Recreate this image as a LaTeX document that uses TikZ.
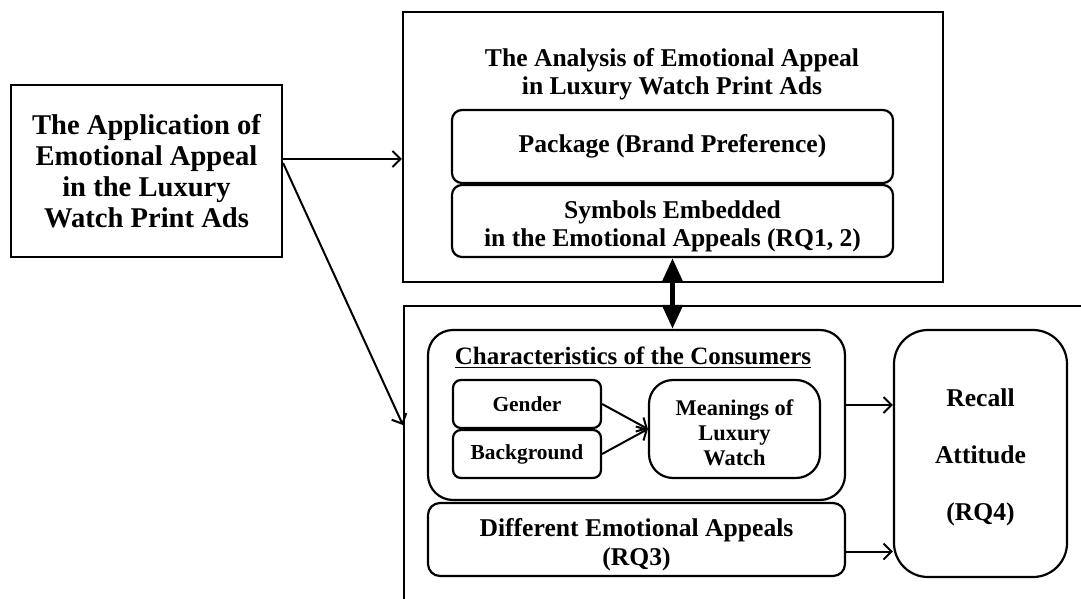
\documentclass[tikz,border=0pt]{standalone}
\usepackage{fontspec}
\setmainfont{Liberation Serif}
\usetikzlibrary{arrows.meta, positioning}

\begin{document}
\begin{tikzpicture}[x=0.5pt, y=-0.5pt,
  box/.style={draw, line width=1.1pt, inner sep=0pt, align=center,
    font=\bfseries\fontsize{12.8}{14}\selectfont},
  rbox/.style={box, rounded corners=#1},
  txt/.style={inner sep=0pt, align=center},
  arr/.style={line width=1pt, -{Straight Barb[length=4pt,width=8pt]}},
  big/.style={line width=2.6pt,
    {Triangle[length=12pt,width=10pt]}-{Triangle[length=12pt,width=10pt]}}]
  \useasboundingbox (0,0) rectangle (1081,599);
  \clip (0,0) rectangle (1081,599);

  % left box
  \node[box, minimum width=135.5pt, minimum height=86pt,
    font=\bfseries\fontsize{14.3}{15.5}\selectfont] (app) at (146.5,171)
    {The Application of\\Emotional Appeal\\in the Luxury\\Watch Print Ads};

  % analysis
  \node[box, minimum width=270pt, minimum height=135pt] (ana) at (673,147) {};
  \node[txt, font=\bfseries\fontsize{12.8}{14}\selectfont] (anatitle)
    at (672,74) {The Analysis of Emotional Appeal\\in Luxury Watch Print Ads};
  \node[rbox=5pt, minimum width=220.5pt, minimum height=36.5pt] (pkg)
    at (672.5,146.5) {Package (Brand Preference)};
  \node[rbox=5pt, minimum width=220.5pt, minimum height=36pt] (sym)
    at (672.5,221) {};
  \node[txt, font=\bfseries\fontsize{12.8}{14}\selectfont] (symtext)
    at ([yshift=-2.5pt]sym.center)
    {Symbols Embedded\\in the Emotional Appeals (RQ1, 2)};

  % study frame
  \node[box, minimum width=348pt, minimum height=157pt] (study) at (752,463) {};
  \node[rbox=12.5pt, minimum width=208.5pt, minimum height=85pt] (cons)
    at (636.5,415) {};
  \node[txt, font=\bfseries\fontsize{12.5}{14}\selectfont] (constitle)
    at (633,358) {\underline{Characteristics of the Consumers}};
  \node[rbox=4pt, minimum width=74pt, minimum height=24pt,
    font=\bfseries\fontsize{10.7}{12}\selectfont] (gen) at (527,404) {Gender};
  \node[rbox=4pt, minimum width=74pt, minimum height=24pt,
    font=\bfseries\fontsize{10.7}{12}\selectfont] (bg) at (527,454) {Background};
  \node[rbox=12pt, minimum width=85.5pt, minimum height=49pt] (mean)
    at (734.5,429) {};
  \node[txt, font=\bfseries\fontsize{11.2}{12.5}\selectfont] (meantext)
    at ([yshift=-2pt]mean.center) {Meanings of\\Luxury\\Watch};
  \node[rbox=6pt, minimum width=208.5pt, minimum height=36.5pt] (diff)
    at (636.5,539.5) {};
  \node[txt, font=\bfseries\fontsize{12.8}{14.5}\selectfont] (difftext)
    at ([yshift=-2.5pt]diff.center) {Different Emotional Appeals\\(RQ3)};
  \node[rbox=17pt, minimum width=86.5pt, minimum height=123.5pt] (rec)
    at (980.5,453.5) {};
  \node[txt, font=\bfseries\fontsize{12.8}{28.5}\selectfont] (rectext)
    at ([yshift=-2pt]rec.center) {Recall\\Attitude\\(RQ4)};

  % connectors
  \draw[arr] ([yshift=6pt]app.east) -- ([yshift=6pt]app.east -| ana.west);
  \draw[arr] ([yshift=4pt]app.east) -- ([yshift=19pt]study.west);
  \draw[big] (sym.south) -- (sym.south |- cons.north);
  \path[arr]
  ([yshift=5pt]cons.east) edge ([yshift=5pt]cons.east -| rec.west)
  ([yshift=-6pt]diff.east) edge ([yshift=-6pt]diff.east -| rec.west)
  (gen.east) edge (mean.west)
  (bg.east) edge (mean.west)
  ;
\end{tikzpicture}
\end{document}
